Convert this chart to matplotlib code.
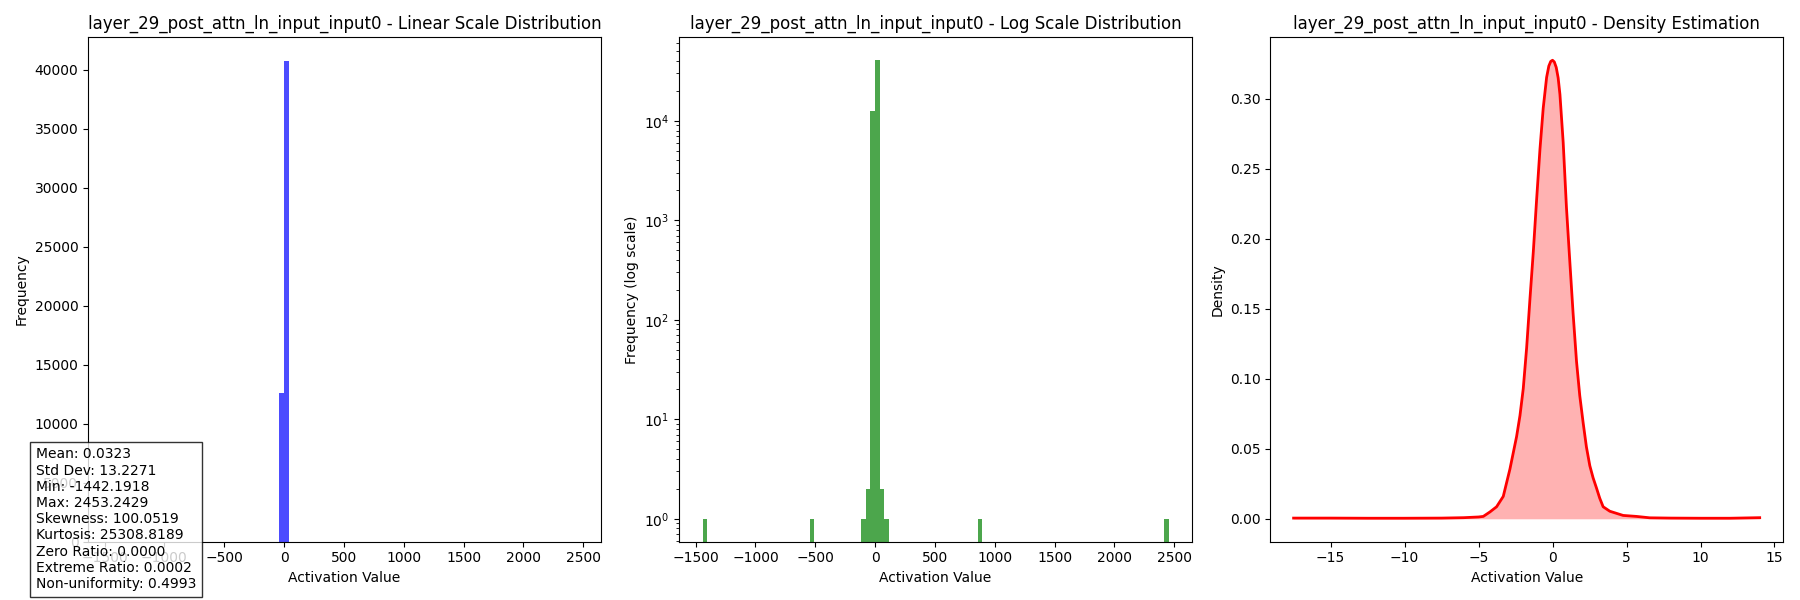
import matplotlib
matplotlib.use("Agg")
import matplotlib.pyplot as plt
import numpy as np

layer_name = "layer_29_post_attn_ln_input_input0"

# histogram: 100 equal bins between min and max, only the non-empty ones listed
data_min = -1442.1918
data_max = 2453.2429
n_bins = 100
nonzero_bins = [0, 23, 34, 35, 36, 37, 38, 39, 59, 99]
nonzero_counts = [1, 1, 1, 2, 12600, 40700, 2, 1, 1, 1]

# density curve
kde_x = [-17.5, -15.0, -12.5, -10.0, -7.5, -6.0, -5.0, -4.68, -4.23, -3.78,
         -3.33, -2.88, -2.43, -2.2, -1.98, -1.75, -1.53, -1.3, -1.08, -0.85,
         -0.63, -0.4, -0.25, -0.12, 0.0, 0.12, 0.25, 0.38, 0.5, 0.72, 0.94,
         1.17, 1.39, 1.62, 1.84, 2.07, 2.29, 2.52, 2.74, 2.97, 3.19, 3.42,
         3.87, 4.77, 5.67, 6.57, 8.0, 10.0, 12.0, 14.0]
kde_y = [0.0005, 0.0005, 0.0004, 0.0004, 0.0005, 0.0008, 0.0013, 0.0017, 0.0049, 0.0086,
         0.016, 0.0355, 0.0587, 0.0738, 0.0929, 0.1222, 0.1565, 0.1907, 0.2274, 0.264,
         0.2934, 0.3154, 0.3235, 0.3268, 0.3276, 0.3264, 0.3225, 0.3150, 0.3032, 0.2689, 0.2225,
         0.1834, 0.1467, 0.1125, 0.088, 0.0685, 0.0513, 0.0379, 0.0293, 0.022, 0.0147, 0.0086,
         0.0054, 0.0024, 0.0017, 0.0007, 0.0005, 0.0004, 0.0004, 0.0008]

stats_lines = [
    "Mean: 0.0323",
    "Std Dev: 13.2271",
    "Min: -1442.1918",
    "Max: 2453.2429",
    "Skewness: 100.0519",
    "Kurtosis: 25308.8189",
    "Zero Ratio: 0.0000",
    "Extreme Ratio: 0.0002",
    "Non-uniformity: 0.4993",
]

edges = np.linspace(data_min, data_max, n_bins + 1)
centers = (edges[:-1] + edges[1:]) / 2
counts = np.zeros(n_bins)
counts[nonzero_bins] = nonzero_counts

fig, axes = plt.subplots(1, 3, figsize=(18, 6))

ax = axes[0]
ax.hist(centers, bins=edges, weights=counts, color="blue", alpha=0.7)
ax.set_title(f"{layer_name} - Linear Scale Distribution")
ax.set_xlabel("Activation Value")
ax.set_ylabel("Frequency")

ax = axes[1]
ax.hist(centers, bins=edges, weights=counts, color="green", alpha=0.7, log=True)
ax.set_title(f"{layer_name} - Log Scale Distribution")
ax.set_xlabel("Activation Value")
ax.set_ylabel("Frequency (log scale)")

ax = axes[2]
ax.plot(kde_x, kde_y, color="red", lw=2)
ax.fill_between(kde_x, kde_y, color="red", alpha=0.3, lw=0)
ax.set_title(f"{layer_name} - Density Estimation")
ax.set_xlabel("Activation Value")
ax.set_ylabel("Density")

plt.tight_layout()
# stats box sits over the bottom-left corner, as in the original
fig.text(0.02, 0.02, "\n".join(stats_lines), fontsize=10,
         bbox=dict(facecolor="white", alpha=0.8))
plt.savefig("out.png", dpi=100)
